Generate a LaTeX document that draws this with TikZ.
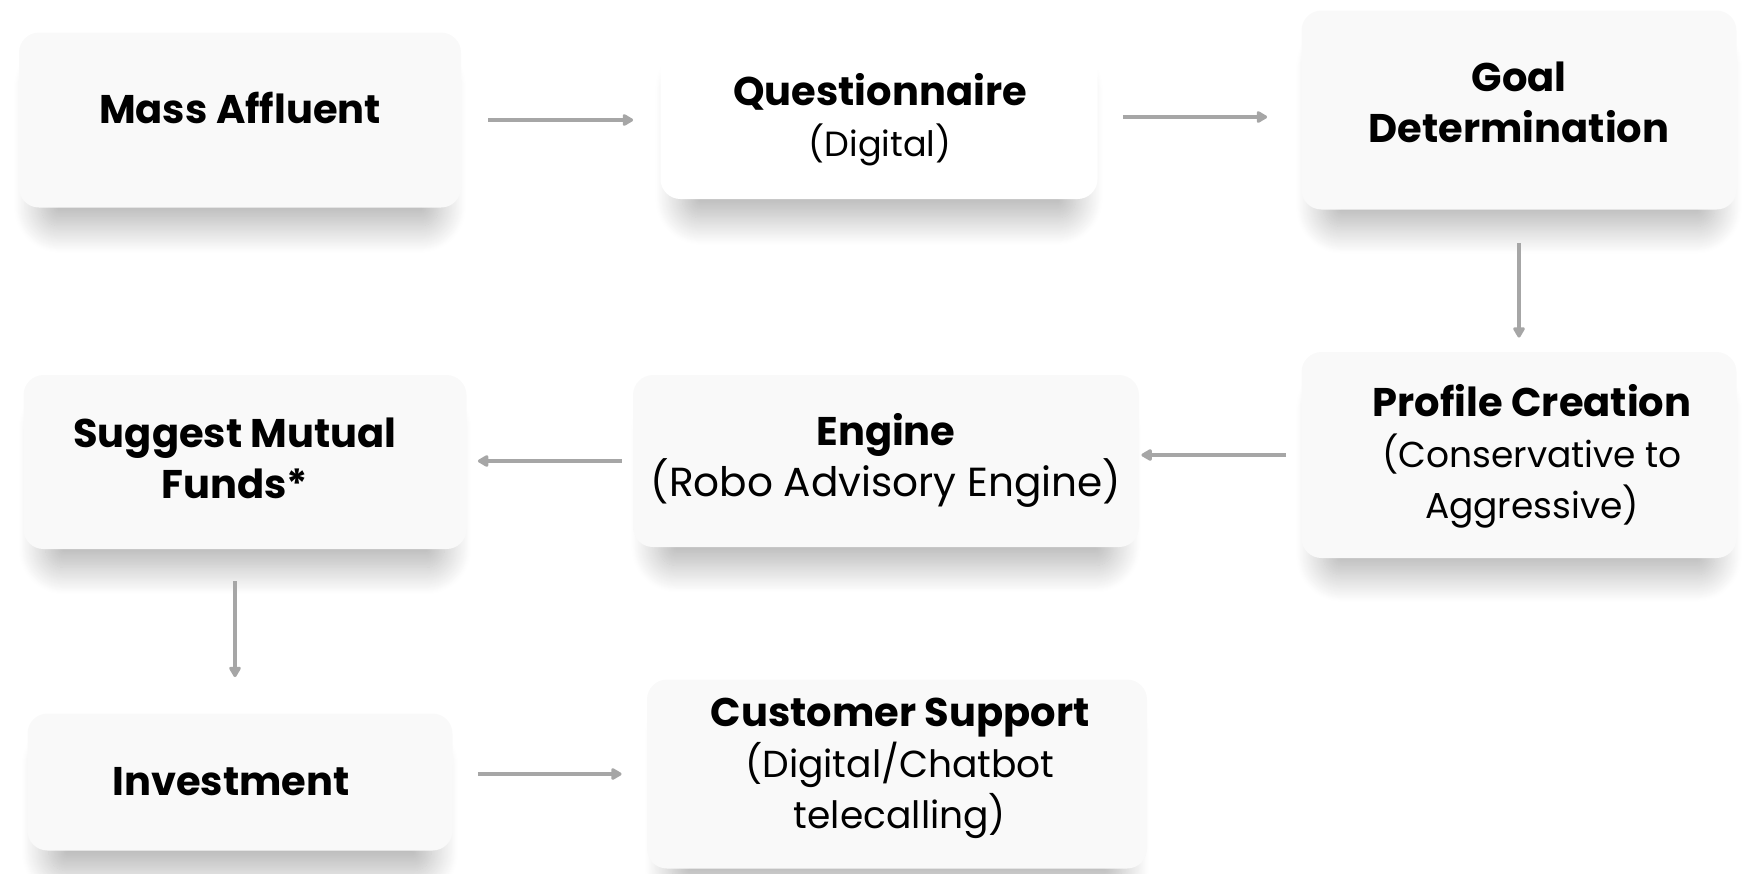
\documentclass[tikz,border=0pt]{standalone}
\usepackage{fontspec}
\setmainfont{Poppins}
\usepackage{xcolor}
\usetikzlibrary{arrows.meta, shadows.blur}

\definecolor{boxfill}{HTML}{F9F9F9}
\definecolor{flowgray}{HTML}{A6A6A6}

\newcommand{\ttl}[1]{{\bfseries #1}}
\newcommand{\sub}[2][18]{{\fontsize{#1}{24}\selectfont #2}}

\begin{document}
\begin{tikzpicture}[
    x=0.5pt, y=-0.5pt,
    card/.style 2 args={rounded corners=10pt, fill=boxfill, inner sep=0pt,
        minimum width=#1, minimum height=#2,
        blur shadow={shadow xshift=0pt, shadow yshift=-15pt, shadow scale=0.9,
            shadow blur radius=15pt, shadow blur steps=30, shadow opacity=30}},
    txt/.style={align=center, inner sep=0pt, font=\fontsize{20}{25.5}\selectfont},
    flow/.style={-{Triangle[length=6pt, width=6.5pt, round]}, line width=1.7pt, draw=flowgray}
]
\useasboundingbox (0,0) rectangle (1751,873);

% boxes
\node[card={221pt}{87.5pt}] (mass) at (240,120) {};
\node[card={218.5pt}{82pt}, fill=white] (quest) at (879,117) {};
\node[card={217.5pt}{99.5pt}] (goal) at (1519,110) {};
\node[card={217.5pt}{103pt}] (profile) at (1519,455) {};
\node[card={253pt}{86pt}] (engine) at (886,461) {};
\node[card={221.5pt}{87pt}] (suggest) at (245,462) {};
\node[card={212.5pt}{68.5pt}] (invest) at (240,782) {};
\node[card={250pt}{94.5pt}] (support) at (897,774) {};

% texts
\node[txt] (mass-t) at (240,108) {\ttl{Mass Affluent}};
\node[txt] (quest-t) at (880,120) {\ttl{Questionnaire}\\\sub[17.5]{(Digital)}};
\node[txt] (goal-t) at (1519,102) {\ttl{Goal}\\\ttl{Determination}};
\node[txt] (profile-t) at (1532,456) {\ttl{Profile Creation}\\\sub{(Conservative to}\\\sub{Aggressive)}};
\node[txt] (engine-t) at (886,460) {\ttl{Engine}\\\sub[20.3]{(Robo Advisory Engine)}};
\node[txt] (suggest-t) at (235,458) {\ttl{Suggest Mutual}\\\ttl{Funds*}};
\node[txt] (invest-t) at (231,782) {\ttl{Investment}};
\node[txt] (support-t) at (900,768) {\ttl{Customer Support}\\\sub[18.8]{(Digital/Chatbot}\\\sub[18.8]{telecalling)}};

% flow between steps
\draw[flow, shorten <=13.5pt, shorten >=13.5pt] (mass.east) -- (mass.east -| quest.west);
\draw[flow, shorten <=12.5pt, shorten >=17pt] (quest.east) -- (quest.east -| goal.west);
\draw[flow, shorten <=16.5pt, shorten >=7pt] (goal.south) -- (profile.north);
\draw[flow, shorten <=7.5pt, shorten >=1pt] (profile.west) -- (profile.west -| engine.east);
\draw[flow, shorten <=5.5pt, shorten >=5.5pt] (engine.west) -- (engine.west -| suggest.east);
\draw[flow, shorten <=16pt, shorten >=18pt] ([xshift=-5pt]suggest.south) -- ([xshift=-5pt]suggest.south |- invest.north);
\draw[flow, shorten <=12.5pt, shorten >=12.5pt] (invest.east |- support.west) -- (support.west);
\end{tikzpicture}
\end{document}
